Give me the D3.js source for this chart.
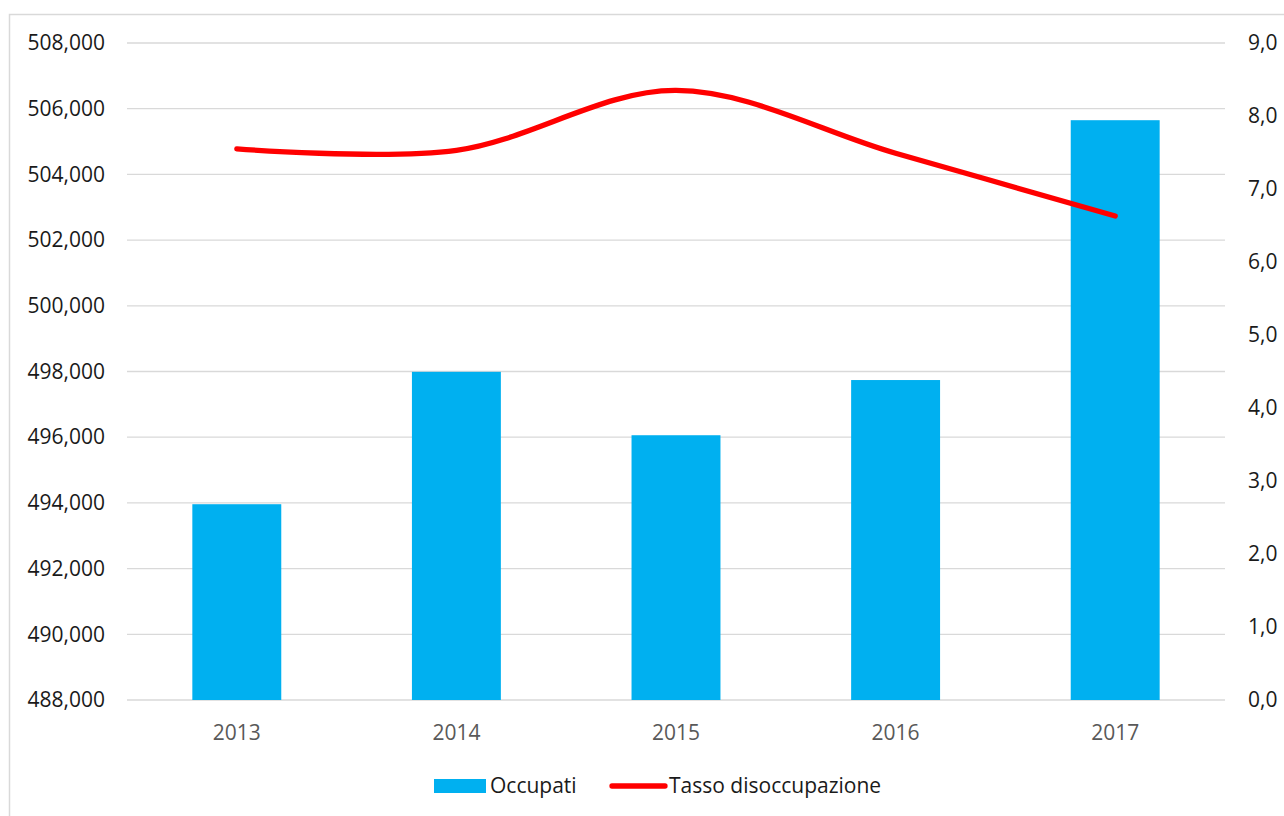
<!DOCTYPE html>
<html><head><meta charset="utf-8">
<script src="https://cdn.jsdelivr.net/npm/d3@7"></script>
<style>
html,body{margin:0;padding:0;background:#fff;}
svg{display:block;font-family:"Open Sans",sans-serif;}
</style></head>
<body>
<svg id="chart" width="1284" height="816"></svg>
<script>
const years = ["2013","2014","2015","2016","2017"];
const occupati = [493960, 497990, 496060, 497740, 505650];
const tasso = [7.55, 7.53, 8.35, 7.49, 6.63];
const leftTicks = [488000,490000,492000,494000,496000,498000,500000,502000,504000,506000,508000];
const rightTicks = [0,1,2,3,4,5,6,7,8,9];
const seriesNames = ["Occupati","Tasso disoccupazione"];

const svg = d3.select("#chart");
const plot = {left:127, right:1225, top:43, bottom:700};

svg.append("rect").attr("x",9.5).attr("y",14.5).attr("width",1290).attr("height",820)
  .attr("fill","#fff").attr("stroke","#d9d9d9").attr("stroke-width",1.5);

const x = d3.scaleBand().domain(years).range([plot.left, plot.right]).paddingInner(0.595).paddingOuter(0.2975);
const yL = d3.scaleLinear().domain([488000,508000]).range([plot.bottom, plot.top]);
const yR = d3.scaleLinear().domain([0,9]).range([plot.bottom, plot.top]);

// gridlines
svg.append("g").selectAll("line").data(leftTicks).join("line")
  .attr("x1",plot.left).attr("x2",plot.right)
  .attr("y1",d=>yL(d)).attr("y2",d=>yL(d))
  .attr("stroke","#d9d9d9").attr("stroke-width",1.3);

// left axis
const fmt = d3.format(",");
const gL = svg.append("g").attr("transform",`translate(${plot.left},0)`)
  .call(d3.axisLeft(yL).tickValues(leftTicks).tickFormat(fmt).tickSize(0).tickPadding(22));
gL.select(".domain").remove();
gL.selectAll("text").attr("font-size",21).attr("fill","#1a1a1a").attr("font-family","Open Sans");

// right axis
const gR = svg.append("g").attr("transform",`translate(${plot.right},0)`)
  .call(d3.axisRight(yR).tickValues(rightTicks).tickFormat(d=>d3.format(".1f")(d).replace(".",",")).tickSize(0).tickPadding(23));
gR.select(".domain").remove();
gR.selectAll("text").attr("font-size",21).attr("fill","#1a1a1a").attr("font-family","Open Sans");

// bars
svg.append("g").selectAll("rect").data(years).join("rect")
  .attr("x",d=>x(d)).attr("width",x.bandwidth())
  .attr("y",(d,i)=>yL(occupati[i])).attr("height",(d,i)=>plot.bottom-yL(occupati[i]))
  .attr("fill","#00b0f0");

// x axis labels
const gX = svg.append("g").attr("transform",`translate(0,${plot.bottom})`)
  .call(d3.axisBottom(x).tickSize(0).tickPadding(25));
gX.select(".domain").remove();
gX.selectAll("text").attr("font-size",21).attr("fill","#595959").attr("font-family","Open Sans");

// line
const line = d3.line().x((d,i)=>x(years[i])+x.bandwidth()/2).y(d=>yR(d)).curve(d3.curveCardinal.tension(0));
svg.append("path").datum(tasso).attr("d",line)
  .attr("fill","none").attr("stroke","#ff0000").attr("stroke-width",5.3)
  .attr("stroke-linecap","round").attr("stroke-linejoin","round");

// legend
const lg = svg.append("g");
lg.append("rect").attr("x",434).attr("y",779).attr("width",52).attr("height",14).attr("fill","#00b0f0");
lg.append("text").attr("x",490).attr("y",786).attr("dy","0.35em").attr("font-size",21)
  .attr("fill","#1a1a1a").text(seriesNames[0]);
lg.append("line").attr("x1",612).attr("x2",665).attr("y1",786).attr("y2",786)
  .attr("stroke","#ff0000").attr("stroke-width",5.3).attr("stroke-linecap","round");
lg.append("text").attr("x",669).attr("y",786).attr("dy","0.35em").attr("font-size",21)
  .attr("fill","#1a1a1a").text(seriesNames[1]);
</script>
</body></html>
